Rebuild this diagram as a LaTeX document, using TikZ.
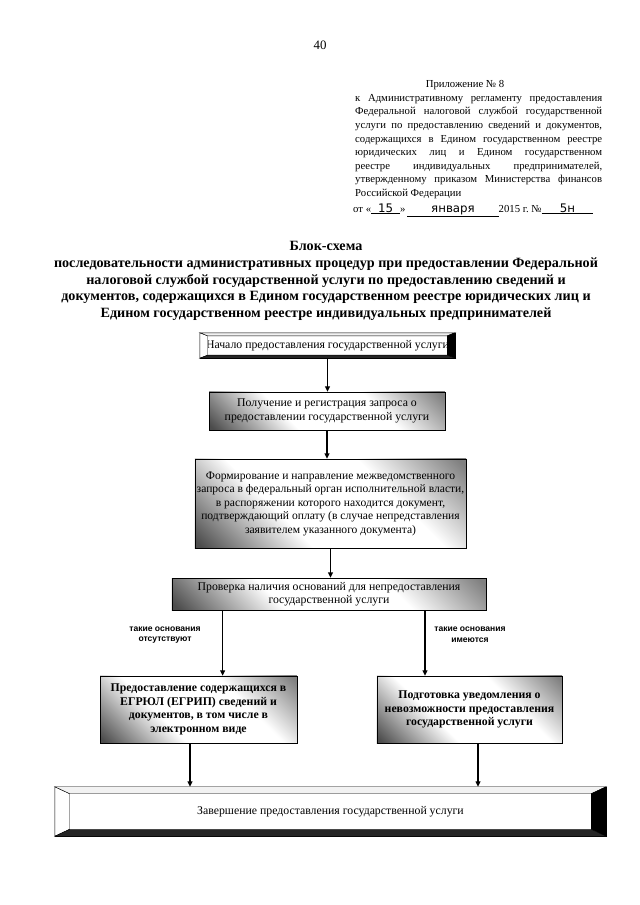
\documentclass[tikz,border=0pt]{standalone}
\usepackage{fontspec}
\setmainfont{Liberation Serif}
\setsansfont{Liberation Sans}
\newfontfamily\handfont{DejaVu Sans}
\usetikzlibrary{arrows.meta,calc}

% scanned fill: dark lower left corner, white middle, grey upper right corner
\pgfdeclareverticalshading{scanfade}{100bp}{color(0bp)=(black!70); color(16bp)=(black!70);
  color(38bp)=(white); color(64bp)=(white); color(84bp)=(black!50); color(100bp)=(black!50)}

% 3D frame round a node: node name, side inset, top/bottom inset
\newcommand{\bevelframe}[3]{%
  \filldraw[fill=white,thin] (#1.north west) -- ([shift={(#2,-#3)}]#1.north west)
    -- ([shift={(#2,#3)}]#1.south west) -- (#1.south west) -- cycle;
  \filldraw[fill=gray!10,thin] (#1.north west) -- (#1.north east)
    -- ([shift={(-#2,-#3)}]#1.north east) -- ([shift={(#2,-#3)}]#1.north west) -- cycle;
  \filldraw[fill=black,thin] (#1.north east) -- (#1.south east)
    -- ([shift={(-#2,#3)}]#1.south east) -- ([shift={(-#2,-#3)}]#1.north east) -- cycle;
  \filldraw[fill=black!85,thin] (#1.south west) -- (#1.south east)
    -- ([shift={(-#2,#3)}]#1.south east) -- ([shift={(#2,#3)}]#1.south west) -- cycle;
}

\begin{document}
\begin{tikzpicture}[x=0.328mm, y=-0.328mm,
  txt/.style={font=\fontsize{11}{12.6}\selectfont, align=center},
  procbox/.style={txt, draw, thin, inner sep=0pt, shade, shading=scanfade, shading angle=-45},
  bevelbox/.style={txt, draw, fill=white, inner sep=0pt},
  arr/.style={line width=1.1pt, -{Triangle[length=5pt,width=4.5pt]}},
  branch/.style={font=\sffamily\bfseries\fontsize{8}{10}\selectfont, align=center}]
  \useasboundingbox[fill=white] (0,0) rectangle (640,905);

  % Header
  \node[font=\fontsize{12}{14}\selectfont] (page) at (320,45) {40};
  \node[font=\fontsize{10}{13}\selectfont, anchor=base] (app) at (465,88) {Приложение №~8};
  \node[font=\fontsize{10}{12.7}\selectfont, anchor=north west, text width=81mm, align=justify, inner sep=0pt] (reg) at (355,94)
    {к Административному регламенту предоставления\linebreak
     Федеральной налоговой службой государственной\linebreak
     услуги по предоставлению сведений и документов,\linebreak
     содержащихся в Едином государственном реестре\linebreak
     юридических лиц и Едином государственном\linebreak
     реестре индивидуальных предпринимателей,\linebreak
     утвержденному приказом Министерства финансов\linebreak
     Российской Федерации};
  \node[font=\fontsize{10}{13}\selectfont, anchor=base west, inner sep=0pt] (date) at (353,212)
    {от «\underline{\makebox[9.5mm]{\handfont\fontsize{11}{13}\selectfont 15}}»\,\underline{\makebox[30mm]{\handfont\fontsize{11}{13}\selectfont января}}2015~г.~№\underline{\makebox[17mm]{\handfont\fontsize{11}{13}\selectfont 5н}}};

  % Title
  \node[font=\bfseries\fontsize{13.2}{15.5}\selectfont, align=center] (title) at (326,281)
    {Блок-схема\\
     последовательности административных процедур при предоставлении Федеральной\\
     налоговой службой государственной услуги по предоставлению сведений и\\
     документов, содержащихся в Едином государственном реестре юридических лиц и\\
     Едином государственном реестре индивидуальных предпринимателей};

  % Boxes
  \node[bevelbox, minimum width=83.6mm, minimum height=8.2mm] (start) at (327.5,345.5)
    {Начало предоставления государственной услуги};
  \bevelframe{start}{2.6mm}{1mm}
  \node[procbox, minimum width=77.4mm, minimum height=12.5mm] (recv) at (327,411)
    {Получение и регистрация запроса о\\предоставлении государственной услуги};
  \node[procbox, font=\fontsize{10.8}{12.6}\selectfont, minimum width=88.9mm, minimum height=29.2mm] (form) at (330.5,503.5)
    {Формирование и направление межведомственного\\
     запроса в федеральный орган исполнительной власти,\\
     в распоряжении которого находится документ,\\
     подтверждающий оплату (в случае непредставления\\
     заявителем указанного документа)};
  \node[procbox, minimum width=103mm, minimum height=10.5mm] (check) at (329,594)
    {Проверка наличия оснований для непредоставления\\государственной услуги};
  \node[procbox, font=\bfseries\fontsize{11}{12.6}\selectfont, minimum width=64.6mm, minimum height=22mm] (give) at (198.5,709.5)
    {Предоставление содержащихся в\\ЕГРЮЛ (ЕГРИП) сведений и\\документов, в том числе в\\электронном виде};
  \node[procbox, font=\bfseries\fontsize{11}{12.6}\selectfont, minimum width=60.7mm, minimum height=22mm] (refuse) at (469.5,709.5)
    {Подготовка уведомления о\\невозможности предоставления\\государственной услуги};
  \node[bevelbox, minimum width=180.7mm, minimum height=16.1mm] (finish) at (330.5,811.5)
    {Завершение предоставления государственной услуги};
  \bevelframe{finish}{4.9mm}{2.3mm}

  % Branch labels
  \node[branch] (noground) at (165,635) {такие основания\\отсутствуют};
  \node[branch] (ground) at (470,635) {такие основания\\имеются};

  % Arrows
  \draw[arr] (start.south) -- (start.south |- recv.north);
  \draw[arr] (recv.south) -- (recv.south |- form.north);
  \draw[arr] (form.south) -- (form.south |- check.north);
  \draw[arr] ([xshift=7.9mm]give.north |- check.south) -- ([xshift=7.9mm]give.north);
  \draw[arr] ([xshift=-14.6mm]refuse.north |- check.south) -- ([xshift=-14.6mm]refuse.north);
  \draw[arr] ([xshift=-2.8mm]give.south) -- ([xshift=-2.8mm]give.south |- finish.north);
  \draw[arr] ([xshift=2.8mm]refuse.south) -- ([xshift=2.8mm]refuse.south |- finish.north);
\end{tikzpicture}
\end{document}
